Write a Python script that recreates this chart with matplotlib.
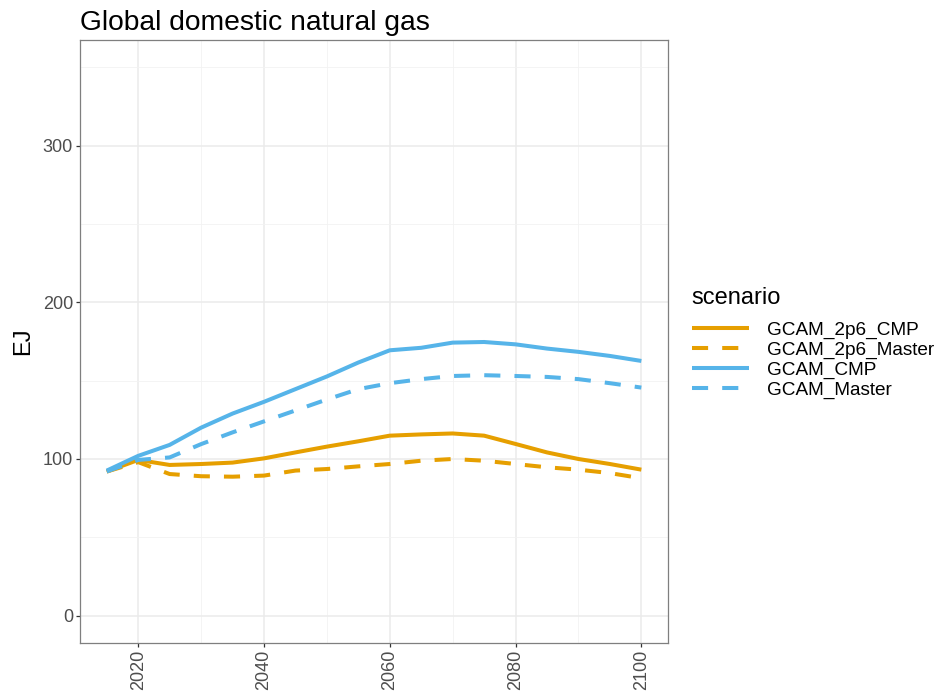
import matplotlib
matplotlib.use("Agg")
import matplotlib.pyplot as plt
from matplotlib.ticker import MultipleLocator

plt.rcParams['font.family'] = ['Liberation Sans', 'DejaVu Sans']

years = list(range(2015, 2101, 5))

gcam_2p6_cmp = [92, 99.4, 96.2, 96.8, 97.7, 100.4, 104.2, 107.9, 111.3, 114.9,
                115.7, 116.3, 114.9, 109.6, 104.2, 100.0, 96.8, 93.2]
gcam_2p6_master = [92, 98.0, 90.4, 89.0, 88.7, 89.4, 92.6, 93.6, 95.3, 96.8,
                   98.9, 100.0, 98.9, 96.8, 94.7, 93.2, 91.0, 87.7]
gcam_cmp = [92.6, 102, 109, 120, 129, 136.5, 144.6, 152.7, 161.6, 169.4,
            171, 174.3, 174.7, 173.2, 170.5, 168.4, 165.8, 162.6]
gcam_master = [92, 99.4, 101, 109.5, 117, 124, 131, 138, 144.6, 148.4,
               151, 153, 153.5, 153, 152.4, 151, 148.4, 145.6]

scenarios = ["GCAM_2p6_CMP", "GCAM_2p6_Master", "GCAM_CMP", "GCAM_Master"]
series = [gcam_2p6_cmp, gcam_2p6_master, gcam_cmp, gcam_master]
colors = ["#E69F00", "#E69F00", "#56B4E9", "#56B4E9"]
styles = ["-", (0, (4, 3.5)), "-", (0, (4, 3.5))]

fig = plt.figure(figsize=(9.37, 6.96), dpi=100)
ax = fig.add_axes([0.0854, 0.0761, 0.6276, 0.8664])

for name, vals, c, ls in zip(scenarios, series, colors, styles):
    ax.plot(years, vals, color=c, linestyle=ls, linewidth=2.9, label=name,
            solid_capstyle="butt", dash_capstyle="butt")

ax.set_xlim(2010.75, 2104.25)
ax.set_ylim(-17.5, 367.5)
ax.xaxis.set_major_locator(MultipleLocator(20))
ax.xaxis.set_minor_locator(MultipleLocator(10))
ax.yaxis.set_major_locator(MultipleLocator(100))
ax.yaxis.set_minor_locator(MultipleLocator(50))
ax.grid(which="major", color="#EBEBEB", linewidth=1.1)
ax.grid(which="minor", color="#F2F2F2", linewidth=0.6)
ax.set_axisbelow(True)

for s in ax.spines.values():
    s.set_color("#7F7F7F")
    s.set_linewidth(0.9)

ax.tick_params(axis="both", which="major", colors="#333333", length=3, width=0.9,
               labelsize=13, labelcolor="#4D4D4D", pad=2)
ax.tick_params(axis="both", which="minor", length=0)
plt.setp(ax.get_xticklabels(), rotation=90)

ax.set_ylabel("EJ", fontsize=17, labelpad=6)
ax.set_title("Global domestic natural gas", fontsize=20.3, loc="left", pad=7, x=0.0)

leg = ax.legend(title="scenario", loc="upper left", bbox_to_anchor=(0.738, 0.588),
                bbox_transform=fig.transFigure, frameon=False, fontsize=13.7,
                title_fontsize=17, handlelength=3.0, handletextpad=0.95,
                labelspacing=0.13, borderaxespad=0, borderpad=0)
leg._legend_box.align = "left"
leg._legend_box.sep = 9

fig.savefig("out.png", dpi=100)
